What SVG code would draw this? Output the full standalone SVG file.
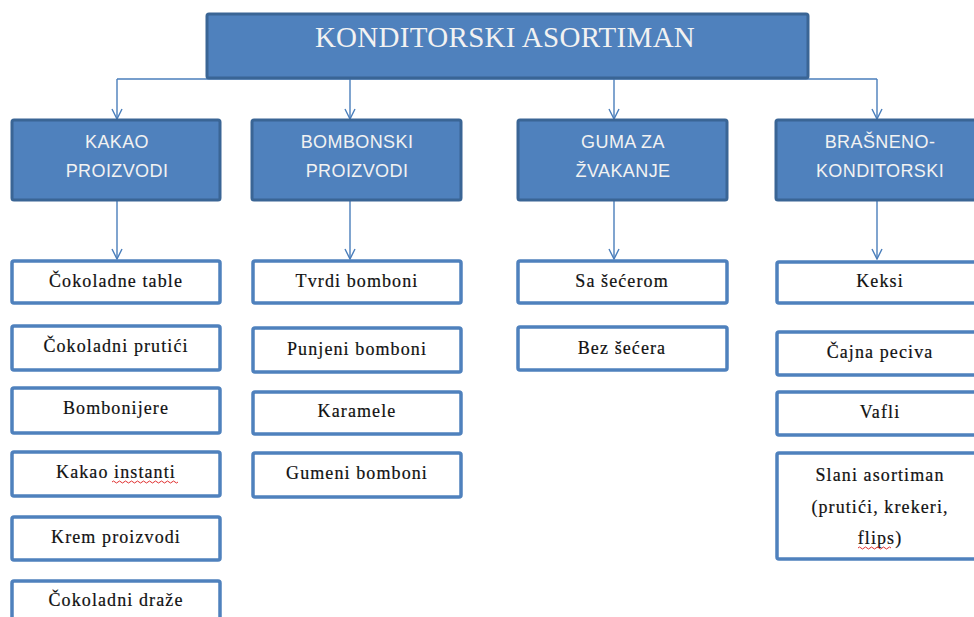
<svg xmlns="http://www.w3.org/2000/svg" width="974" height="617" viewBox="0 0 974 617">
<style>
.top{fill:#4F81BD;stroke:#3A6595;stroke-width:3}
.cat{fill:#4F81BD;stroke:#3A6595;stroke-width:3}
.item{fill:#FFFFFF;stroke:#4F81BD;stroke-width:3.5}
.ttl{font-family:"Liberation Serif",serif;font-size:29px;fill:#F2F2F2;text-anchor:middle;letter-spacing:0.3px}
.ct{font-family:"Liberation Sans",sans-serif;font-size:18px;fill:#F2F2F2;text-anchor:middle;letter-spacing:0.4px}
.it{font-family:"Liberation Serif",serif;font-size:18px;fill:#111111;stroke:#111111;stroke-width:0.2;text-anchor:middle;letter-spacing:1.1px}
.con{fill:none;stroke:#4A7EBB;stroke-width:1.4}
.sq{fill:none;stroke:#E03030;stroke-width:1}
</style>
<defs>
<marker id="arr" viewBox="0 0 12 12" refX="11" refY="6" markerWidth="12" markerHeight="12" markerUnits="userSpaceOnUse" orient="auto">
<path d="M1,1 L11,6 L1,11" fill="none" stroke="#4A7EBB" stroke-width="1.4"/>
</marker>
</defs>
<g id="connectors">
<path class="con" d="M117,79 L877,79"/>
<path class="con" d="M117,79 L117,119" marker-end="url(#arr)"/>
<path class="con" d="M350,79 L350,119" marker-end="url(#arr)"/>
<path class="con" d="M614,79 L614,119" marker-end="url(#arr)"/>
<path class="con" d="M877,79 L877,119" marker-end="url(#arr)"/>
<path class="con" d="M117,201 L117,259" marker-end="url(#arr)"/>
<path class="con" d="M350,201 L350,259" marker-end="url(#arr)"/>
<path class="con" d="M614,201 L614,259" marker-end="url(#arr)"/>
<path class="con" d="M877,201 L877,259" marker-end="url(#arr)"/>
</g>
<g id="root"><rect class="top" x="207" y="14" width="601" height="64" rx="2"/><text class="ttl" x="505" y="47">KONDITORSKI ASORTIMAN</text></g>
<g id="kakao"><rect class="cat" x="12" y="120" width="208" height="80" rx="2"/><text class="ct" x="117" y="148">KAKAO</text><text class="ct" x="117" y="177">PROIZVODI</text></g>
<g id="bombonski"><rect class="cat" x="252" y="120" width="209" height="80" rx="2"/><text class="ct" x="357" y="148">BOMBONSKI</text><text class="ct" x="357" y="177">PROIZVODI</text></g>
<g id="guma"><rect class="cat" x="518" y="120" width="209" height="80" rx="2"/><text class="ct" x="623" y="148">GUMA ZA</text><text class="ct" x="623" y="177">ŽVAKANJE</text></g>
<g id="brasneno"><rect class="cat" x="776" y="120" width="209" height="80" rx="2"/><text class="ct" x="880" y="148">BRAŠNENO-</text><text class="ct" x="880" y="177">KONDITORSKI</text></g>

<g id="k1"><rect class="item" x="12" y="261" width="208" height="42" rx="2"/><text class="it" x="116" y="287">Čokoladne table</text></g>
<g id="k2"><rect class="item" x="12" y="326" width="208" height="44" rx="2"/><text class="it" x="116" y="352">Čokoladni prutići</text></g>
<g id="k3"><rect class="item" x="12" y="388" width="208" height="45" rx="2"/><text class="it" x="116" y="414">Bombonijere</text></g>
<g id="k4"><rect class="item" x="12" y="452" width="208" height="44" rx="2"/><text class="it" x="116" y="478">Kakao instanti</text><path class="sq" d="M112,482 q1.5,-2 3,0 t3,0 t3,0 t3,0 t3,0 t3,0 t3,0 t3,0 t3,0 t3,0 t3,0 t3,0 t3,0 t3,0 t3,0 t3,0 t3,0 t3,0 t3,0 t3,0 t3,0 t3,0"/></g>
<g id="k5"><rect class="item" x="12" y="517" width="208" height="43" rx="2"/><text class="it" x="116" y="543">Krem proizvodi</text></g>
<g id="k6"><rect class="item" x="12" y="581" width="208" height="44" rx="2"/><text class="it" x="116" y="606">Čokoladni draže</text></g>

<g id="b1"><rect class="item" x="253" y="261" width="208" height="42" rx="2"/><text class="it" x="357" y="287">Tvrdi bomboni</text></g>
<g id="b2"><rect class="item" x="253" y="328" width="208" height="44" rx="2"/><text class="it" x="357" y="355">Punjeni bomboni</text></g>
<g id="b3"><rect class="item" x="253" y="392" width="208" height="42" rx="2"/><text class="it" x="357" y="417">Karamele</text></g>
<g id="b4"><rect class="item" x="253" y="453" width="208" height="44" rx="2"/><text class="it" x="357" y="479">Gumeni bomboni</text></g>

<g id="g1"><rect class="item" x="518" y="261" width="209" height="42" rx="2"/><text class="it" x="622" y="287">Sa šećerom</text></g>
<g id="g2"><rect class="item" x="518" y="327" width="209" height="43" rx="2"/><text class="it" x="622" y="354">Bez šećera</text></g>

<g id="r1"><rect class="item" x="777" y="262" width="209" height="41" rx="2"/><text class="it" x="880" y="287">Keksi</text></g>
<g id="r2"><rect class="item" x="777" y="332" width="209" height="43" rx="2"/><text class="it" x="880" y="358">Čajna peciva</text></g>
<g id="r3"><rect class="item" x="777" y="392" width="209" height="43" rx="2"/><text class="it" x="880" y="418">Vafli</text></g>
<g id="r4"><rect class="item" x="777" y="453" width="209" height="106" rx="2"/><text class="it" x="880" y="481">Slani asortiman</text><text class="it" x="880" y="513">(prutići, krekeri,</text><text class="it" x="880" y="544">flips)</text><path class="sq" d="M858,548 q1.5,-2 3,0 t3,0 t3,0 t3,0 t3,0 t3,0 t3,0 t3,0 t3,0 t3,0 t3,0"/></g>
</svg>
